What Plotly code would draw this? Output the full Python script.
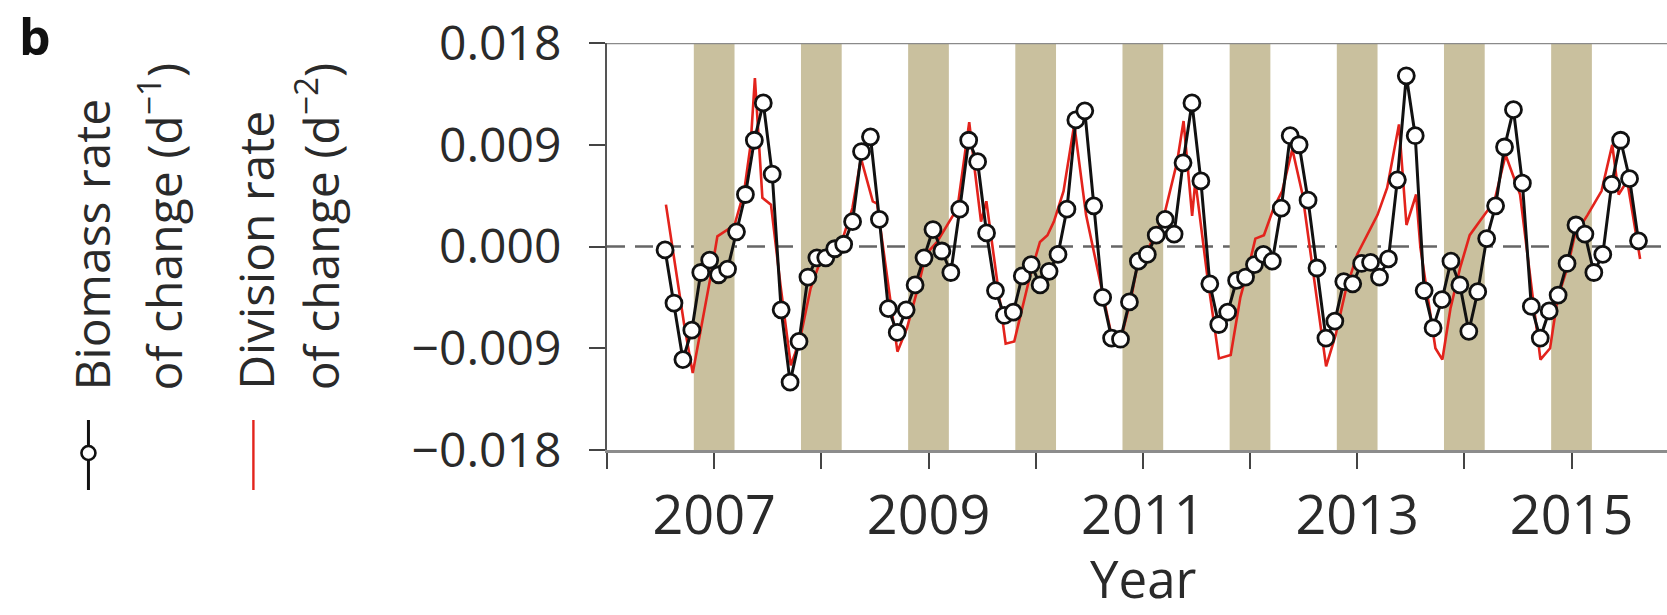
import pandas as pd
import plotly.graph_objects as go

# ---- data -----------------------------------------------------------------
# Monthly biomass rate of change (d^-1), July 2006 .. August 2015
months = pd.period_range("2006-07", "2015-08", freq="M")
biomass_rate = [
    # 2006 (Jul-Dec)
    -0.0003, -0.0050, -0.0100, -0.0074, -0.0023, -0.0012,
    # 2007
    -0.0025, -0.0020, 0.0013, 0.0046, 0.0094, 0.0127, 0.0064, -0.0056, -0.0120, -0.0084, -0.0027, -0.0010,
    # 2008
    -0.0010, -0.0002, 0.0002, 0.0022, 0.0084, 0.0097, 0.0024, -0.0055, -0.0076, -0.0056, -0.0034, -0.0010,
    # 2009
    0.0015, -0.0004, -0.0023, 0.0033, 0.0094, 0.0075, 0.0012, -0.0039, -0.0061, -0.0058, -0.0026, -0.0016,
    # 2010
    -0.0034, -0.0022, -0.0007, 0.0033, 0.0112, 0.0120, 0.0036, -0.0045, -0.0081, -0.0082, -0.0049, -0.0013,
    # 2011
    -0.0007, 0.0010, 0.0024, 0.0011, 0.0074, 0.0127, 0.0058, -0.0033, -0.0069, -0.0058, -0.0030, -0.0027,
    # 2012
    -0.0016, -0.0007, -0.0013, 0.0034, 0.0098, 0.0090, 0.0041, -0.0019, -0.0081, -0.0066, -0.0031, -0.0033,
    # 2013
    -0.0015, -0.0014, -0.0027, -0.0011, 0.0059, 0.0151, 0.0098, -0.0039, -0.0072, -0.0047, -0.0013, -0.0034,
    # 2014
    -0.0075, -0.0040, 0.0007, 0.0036, 0.0088, 0.0121, 0.0056, -0.0053, -0.0081, -0.0057, -0.0043, -0.0015,
    # 2015 (Jan-Aug)
    0.0019, 0.0011, -0.0023, -0.0007, 0.0055, 0.0094, 0.0060, 0.0005,
]
# mid-month positions in decimal years
biomass_time = [m.year + (m.month - 0.5) / 12 for m in months]

# Division rate of change (d^-2), finer time resolution (decimal years)
division_time = [
    2006.55, 2006.72, 2006.80, 2006.88, 2006.97, 2007.03, 2007.08, 2007.19, 2007.28, 2007.34,
    2007.38, 2007.45, 2007.53, 2007.62, 2007.715, 2007.75, 2007.81, 2007.90, 2007.99,
    2008.09, 2008.21, 2008.29, 2008.37, 2008.48, 2008.52, 2008.71, 2008.80, 2008.90, 2008.975,
    2009.08, 2009.27, 2009.38, 2009.43, 2009.49, 2009.54, 2009.72, 2009.80, 2009.89, 2009.95,
    2010.04, 2010.11, 2010.17, 2010.26, 2010.36, 2010.47, 2010.72, 2010.80, 2010.89, 2010.95,
    2011.04, 2011.20, 2011.32, 2011.38, 2011.46, 2011.49, 2011.60, 2011.71, 2011.82, 2011.91, 2011.99,
    2012.05, 2012.13, 2012.22, 2012.30, 2012.395, 2012.49, 2012.71, 2012.80, 2012.89,
    2013.00, 2013.06, 2013.19, 2013.28, 2013.39, 2013.46, 2013.55, 2013.59, 2013.73, 2013.795, 2013.87, 2013.96,
    2014.05, 2014.14, 2014.28, 2014.385, 2014.52, 2014.71, 2014.80, 2014.87, 2014.97,
    2015.03, 2015.15, 2015.28, 2015.38, 2015.44, 2015.52, 2015.64,
]
division_rate = [
    0.0037, -0.0069, -0.0112, -0.0072, -0.0025, 0.0009, 0.0012, 0.0019, 0.0049, 0.0090,
    0.0149, 0.0043, 0.0037, -0.0035, -0.0105, -0.0096, -0.0078, -0.0037, -0.0013,
    -0.0004, 0.0010, 0.0034, 0.0078, 0.0040, 0.0038, -0.0093, -0.0072, -0.0037, -0.0007,
    0.0004, 0.0034, 0.0110, 0.0069, 0.0022, 0.0040, -0.0086, -0.0084, -0.0049, -0.0025,
    0.0004, 0.0010, 0.0022, 0.0049, 0.0108, 0.0028, -0.0084, -0.0080, -0.0046, -0.0016,
    -0.0004, 0.0028, 0.0075, 0.0111, 0.0027, 0.0058, -0.0025, -0.0099, -0.0096, -0.0045, -0.0017,
    0.0007, 0.0010, 0.0034, 0.0049, 0.0086, 0.0046, -0.0106, -0.0078, -0.0040,
    -0.0007, 0.0004, 0.0028, 0.0052, 0.0108, 0.0019, 0.0046, -0.0001, -0.0090, -0.0100, -0.0055, -0.0019,
    0.0010, 0.0022, 0.0040, 0.0081, 0.0046, -0.0100, -0.0090, -0.0046, -0.0016,
    0.0010, 0.0028, 0.0049, 0.0090, 0.0046, 0.0058, -0.0011,
]

# Winter periods shaded in the background (decimal years)
winter_start = [2006.81, 2007.81, 2008.81, 2009.81, 2010.81, 2011.81, 2012.81, 2013.81, 2014.81]
winter_end = [2007.19, 2008.19, 2009.19, 2010.19, 2011.19, 2012.19, 2013.19, 2014.19, 2015.19]

# labelled years (odd); every year gets an unlabelled minor tick
year_ticks = [2007, 2009, 2011, 2013, 2015]
year_labels = ["2007", "2009", "2011", "2013", "2015"]
y_ticks = [-0.018, -0.009, 0.0, 0.009, 0.018]
y_labels = ["\u22120.018", "\u22120.009", "0.000", "0.009", "0.018"]

# ---- layout geometry --------------------------------------------------------
FIG_W, FIG_H = 1667, 615
M_L, M_T, M_B = 606.7, 43.3, 165
PLOT_W = FIG_W - M_L
PLOT_H = FIG_H - M_T - M_B
X_MIN = 2006.0
X_MAX = 2015.891

FONT = "Open Sans"
TXT = "#2a2a2a"
BAND = "#c9c09e"
BLACK = "#111111"
RED = "#e3231c"
TICK = "#444444"


def px(x):
    return (x - M_L) / PLOT_W


def py(y):
    return (M_T + PLOT_H - y) / PLOT_H


fig = go.Figure()

fig.add_trace(go.Scatter(
    x=division_time, y=division_rate, mode="lines",
    line=dict(color=RED, width=2.6),
    showlegend=False, hoverinfo="skip",
))
fig.add_trace(go.Scatter(
    x=biomass_time, y=biomass_rate, mode="lines+markers",
    line=dict(color=BLACK, width=3),
    marker=dict(symbol="circle", size=16, color="white",
                line=dict(color=BLACK, width=2.8)),
    showlegend=False, hoverinfo="skip",
))

shapes = []
for s, e in zip(winter_start, winter_end):
    shapes.append(dict(type="rect", xref="x", yref="y", x0=s, x1=e,
                       y0=-0.018, y1=0.018, fillcolor=BAND,
                       line=dict(width=0), layer="below"))
# zero reference
shapes.append(dict(type="line", xref="paper", yref="y", x0=0, x1=1, y0=0, y1=0,
                   line=dict(color="#666666", width=2.5, dash="18px,10px"),
                   layer="below"))
# top frame line
shapes.append(dict(type="line", xref="paper", yref="y", x0=0, x1=1,
                   y0=0.018, y1=0.018,
                   line=dict(color="#8a8a8a", width=2.5)))

# legend glyphs on the left
LEG_TOP, LEG_BOT, LEG_MARK = 420, 490, 453
shapes.append(dict(type="line", xref="paper", yref="paper",
                   x0=px(88), x1=px(88), y0=py(LEG_TOP), y1=py(LEG_BOT),
                   line=dict(color=BLACK, width=3)))
r = 7
shapes.append(dict(type="circle", xref="paper", yref="paper",
                   x0=px(88 - r), x1=px(88 + r), y0=py(LEG_MARK + r), y1=py(LEG_MARK - r),
                   fillcolor="white", line=dict(color=BLACK, width=2.6)))
shapes.append(dict(type="line", xref="paper", yref="paper",
                   x0=px(253), x1=px(253), y0=py(LEG_TOP), y1=py(LEG_BOT),
                   line=dict(color=RED, width=2.4)))

annotations = []


def vtext(text, xc, ybottom):
    annotations.append(dict(
        text=text, xref="paper", yref="paper", x=px(xc), y=py(ybottom),
        xanchor="center", yanchor="bottom", textangle=-90, showarrow=False,
        font=dict(family=FONT, size=48, color=TXT),
    ))


vtext("Biomass rate", 92, 392)
vtext("of change (d<sup>\u22121</sup>)", 160, 392)
vtext("Division rate", 255, 392)
vtext("of change (d<sup>\u22122</sup>)", 317, 392)

annotations.append(dict(
    text="<b>b</b>", xref="paper", yref="paper", x=px(35), y=py(0),
    xanchor="center", yanchor="top", showarrow=False,
    font=dict(family=FONT, size=50, color=BLACK),
))
annotations.append(dict(
    text="Year", xref="paper", yref="paper", x=px(1143), y=py(615),
    xanchor="center", yanchor="bottom", showarrow=False,
    font=dict(family=FONT, size=51, color=TXT),
))

fig.update_layout(
    width=FIG_W, height=FIG_H,
    margin=dict(l=M_L, r=0, t=M_T, b=M_B, pad=0),
    paper_bgcolor="white", plot_bgcolor="white",
    shapes=shapes, annotations=annotations,
    showlegend=False,
    xaxis=dict(
        range=[X_MIN, X_MAX], tickmode="array", tickvals=year_ticks, ticktext=year_labels,
        ticks="outside", ticklen=16, tickwidth=2, tickcolor=TICK,
        minor=dict(ticks="outside", ticklen=16, tickwidth=2, tickcolor=TICK,
                   tickmode="linear", tick0=2006, dtick=1, showgrid=False),
        showline=True, linecolor="#8c8c8c", linewidth=3,
        showgrid=False, zeroline=False,
        tickfont=dict(family=FONT, size=54, color=TXT),
        ticklabelstandoff=0,
    ),
    yaxis=dict(
        range=[-0.018, 0.018], tickmode="array", tickvals=y_ticks, ticktext=y_labels,
        ticks="outside", ticklen=16, tickwidth=2, tickcolor=TICK,
        showline=True, linecolor="#555555", linewidth=2,
        showgrid=False, zeroline=False,
        tickfont=dict(family=FONT, size=48, color=TXT),
        ticklabelstandoff=18,
    ),
)

fig.write_html("out.html")
